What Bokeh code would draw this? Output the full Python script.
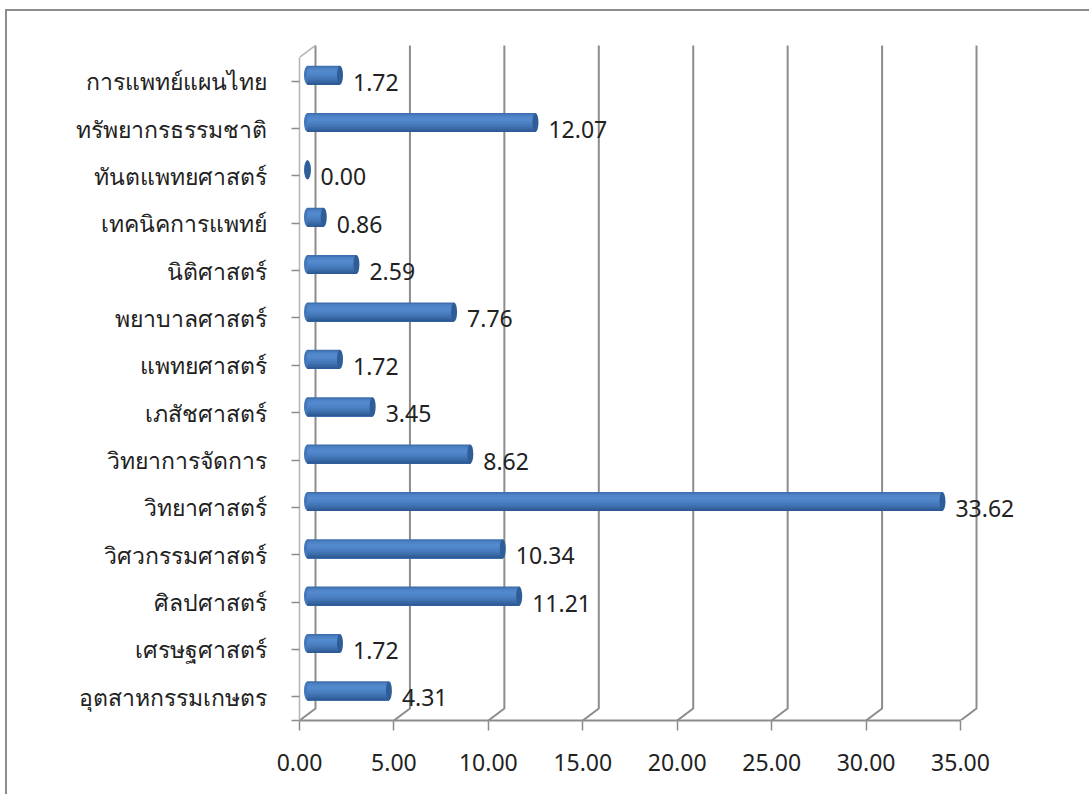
from bokeh.plotting import figure
from bokeh.embed import file_html
from bokeh.resources import INLINE
from bokeh.models import FixedTicker, ColumnDataSource
from bokeh.core.properties import value

categories = ["อุตสาหกรรมเกษตร", "เศรษฐศาสตร์", "ศิลปศาสตร์", "วิศวกรรมศาสตร์", "วิทยาศาสตร์",
              "วิทยาการจัดการ", "เภสัชศาสตร์", "แพทยศาสตร์", "พยาบาลศาสตร์", "นิติศาสตร์",
              "เทคนิคการแพทย์", "ทันตแพทยศาสตร์", "ทรัพยากรธรรมชาติ", "การแพทย์แผนไทย"]
values = [4.31, 1.72, 11.21, 10.34, 33.62, 8.62, 3.45, 1.72, 7.76, 2.59, 0.86, 0.00, 12.07, 1.72]
x_ticks = [0, 5, 10, 15, 20, 25, 30, 35]

FONT = "Noto Sans"
GREY = "#8c8c8c"
PX_X = 18.886      # pixels per value unit
PX_Y = 47.36       # pixels per category
DX = 16 / PX_X     # 3-D wall depth
DY = 12 / PX_Y
W, H = 1089, 794
L, T, FB, FR = 299, 40, 74, 14

x_end = (W - L - FR) / PX_X
y_start = -0.5
y_end = y_start + (H - T - FB) / PX_Y

p = figure(width=W, height=H, output_backend="svg", toolbar_location=None,
           x_range=(0, x_end), y_range=(y_start, y_end),
           min_border_left=L, min_border_top=T, min_border_bottom=FB, min_border_right=FR,
           border_fill_color=None, background_fill_color=None)
p.outline_line_color = None
p.grid.visible = False
# outer chart border: left and top rules of the pasted chart frame
p.styles = {
    "background-image": f"linear-gradient({GREY},{GREY}), linear-gradient({GREY},{GREY})",
    "background-size": "2px 100%, 100% 2px",
    "background-position": "5px 9px, 5px 9px",
    "background-repeat": "no-repeat",
}

# axes
ya = p.yaxis[0]
ya.ticker = FixedTicker(ticks=[-0.5] + list(range(len(categories))))
ya.major_label_overrides = {-0.5: "", **{i: c for i, c in enumerate(categories)}}
ya.bounds = (-0.5, len(categories) - 0.5)
ya.major_tick_out = 8
ya.major_tick_in = 0
ya.minor_tick_line_color = None
ya.axis_line_color = "#b5b5b5"
ya.axis_line_width = 1.5
ya.major_tick_line_color = GREY
ya.major_tick_line_width = 1.5
ya.major_label_standoff = 25
ya.major_label_text_font = FONT
ya.major_label_text_font_size = "23px"
ya.major_label_text_color = "#222222"

xa = p.xaxis[0]
xa.ticker = FixedTicker(ticks=x_ticks)
xa.major_label_overrides = {t: f"{t:.2f}" for t in x_ticks}
xa.bounds = (0, x_ticks[-1])
xa.major_tick_out = 10
xa.major_tick_in = 0
xa.minor_tick_line_color = None
xa.axis_line_color = GREY
xa.axis_line_width = 2
xa.major_tick_line_color = GREY
xa.major_tick_line_width = 1.5
xa.major_label_standoff = 23
xa.major_label_text_font = FONT
xa.major_label_text_font_size = "23px"
xa.major_label_text_color = "#222222"

# 3-D walls
top = len(categories) - 0.5
p.multi_line([[t, t + DX, t + DX] for t in x_ticks],
             [[-0.5, -0.5 + DY, top + DY] for t in x_ticks],
             line_color=GREY, line_width=2)
p.line([0, DX], [top, top + DY], line_color="#b5b5b5", line_width=1.5)

# cylinders
mid = DX / 2
lift = 6 / PX_Y
n = len(values)
ys = [i + lift for i in range(n)]
ends = [v + mid for v in values]
src = ColumnDataSource(dict(y=ys, end=ends, lab=[f"{v:.2f}" for v in values],
                            ty=list(range(n)), start=[mid] * n))

p.ellipse(x="start", y="y", width=7, height=19, width_units="screen", height_units="screen",
          fill_color="#4377b9", line_color=None, source=src)
layers = ["#3f6fae", "#4a7fc1", "#5085c9", "#5389cd", "#5288cc", "#4f85c8", "#4b80c2",
          "#467abb", "#4174b3", "#3b6caa", "#34639f", "#2d5a94"]
half = 19 / PX_Y / 2
h = 2 * half / len(layers)
for k, col in enumerate(layers):
    # each band reaches down to the cylinder's lower edge, so no seams show
    p.quad(left=[mid] * n, right=ends,
           top=[y + half - k * h for y in ys], bottom=[y - half for y in ys],
           fill_color=col, line_color=None)
p.ellipse(x="end", y="y", width=6, height=19, width_units="screen", height_units="screen",
          fill_color="#2f5d98", line_color=None, source=src)

# value labels
p.text(x="end", y="ty", text="lab", source=src, x_offset=13, y_offset=1, text_baseline="middle",
       text_font=value(FONT), text_font_size="23px", text_color="#222222")

open("out.html", "w").write(file_html(p, INLINE))
